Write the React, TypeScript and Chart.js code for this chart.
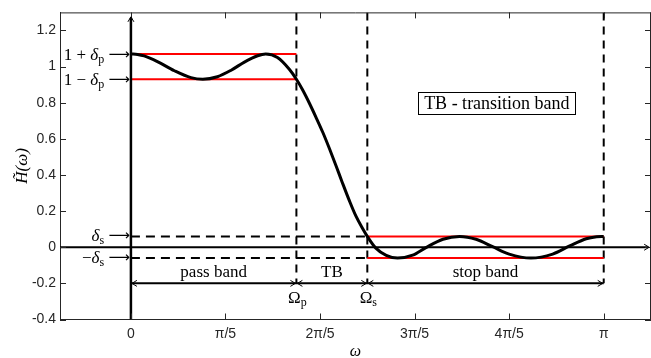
import { useEffect, useRef } from 'react';
import { Chart, registerables } from 'chart.js';

Chart.register(...registerables);

// ---- data (omega in units of pi) ----
const omega = [0, 0.014, 0.028, 0.056, 0.092, 0.127, 0.152, 0.183, 0.212, 0.24, 0.268, 0.285, 0.31, 0.335, 0.35, 0.363, 0.377, 0.391, 0.406, 0.42, 0.434, 0.448, 0.462, 0.476, 0.49, 0.5, 0.518, 0.54, 0.564, 0.596, 0.624, 0.66, 0.695, 0.73, 0.765, 0.8, 0.846, 0.892, 0.928, 0.963, 0.985, 1.0];
const response = [1.07, 1.067, 1.059, 1.028, 0.977, 0.939, 0.93, 0.944, 0.98, 1.025, 1.06, 1.07, 1.05, 0.985, 0.93, 0.872, 0.8, 0.722, 0.635, 0.545, 0.45, 0.352, 0.258, 0.172, 0.104, 0.06, -0.005, -0.045, -0.06, -0.044, -0.002, 0.044, 0.06, 0.044, 0.003, -0.038, -0.06, -0.038, 0.007, 0.047, 0.058, 0.06];

const OMEGA_P = 0.35;
const OMEGA_S = 0.5;
const OMEGA_END = 1;
const DELTA_P = 0.07;
const DELTA_S = 0.06;
const BAND_ARROW_Y = -0.2;
const AXIS_ARROW_TOP = 1.27;
const AXIS_ARROW_RIGHT = 1.094;

const X_MIN = -0.15;
const X_MAX = 1.1;
const Y_MIN = -0.4;
const Y_MAX = 1.3;

const xTickValues = [0, 0.2, 0.4, 0.6, 0.8, 1];
const xTickLabels = ['0', 'π/5', '2π/5', '3π/5', '4π/5', 'π'];
const yTickValues = [-0.4, -0.2, 0, 0.2, 0.4, 0.6, 0.8, 1, 1.2];
const yTickLabels = ['-0.4', '-0.2', '0', '0.2', '0.4', '0.6', '0.8', '1', '1.2'];

const bandLabels = ['pass band', 'TB', 'stop band'];
const noteText = 'TB - transition band';
const NOTE_X = 0.774;
const NOTE_Y = 0.8;

const AXIS_COLOR = '#262626';
const SERIF = '"Liberation Serif", "Times New Roman", serif';
const SANS = '"Liberation Sans", Arial, sans-serif';
const F_MAIN = `17px ${SERIF}`;
const F_NOTE = `18px ${SERIF}`;
const F_ITAL = `italic 17px ${SERIF}`;
const F_SUB = `12px ${SERIF}`;
const F_ARROW = `15px "DejaVu Sans", ${SERIF}`;

const seg = (x1: number, y1: number, x2: number, y2: number) => [
  { x: x1, y: y1 },
  { x: x2, y: y2 },
];

const lineDs = (data: any, color: string, width: number, dash: number[] = []) => ({
  data,
  borderColor: color,
  borderWidth: width,
  borderDash: dash,
  pointRadius: 0,
  fill: false,
  tension: 0,
});

type Part = { t: string; font: string; dy?: number };

function drawParts(ctx: CanvasRenderingContext2D, parts: Part[], x: number, y: number, align: 'left' | 'right' | 'center') {
  const widths = parts.map((p) => {
    ctx.font = p.font;
    return ctx.measureText(p.t).width;
  });
  const total = widths.reduce((a, b) => a + b, 0);
  let cx = align === 'left' ? x : align === 'right' ? x - total : x - total / 2;
  ctx.textAlign = 'left';
  ctx.textBaseline = 'alphabetic';
  parts.forEach((p, i) => {
    ctx.font = p.font;
    ctx.fillText(p.t, cx, y + (p.dy || 0));
    cx += widths[i];
  });
}

function chevron(ctx: CanvasRenderingContext2D, tx: number, ty: number, dx: number, dy: number, len = 5, hw = 3) {
  const bx = tx - dx * len;
  const by = ty - dy * len;
  const nx = -dy;
  const ny = dx;
  ctx.beginPath();
  ctx.moveTo(bx + nx * hw, by + ny * hw);
  ctx.lineTo(tx, ty);
  ctx.lineTo(bx - nx * hw, by - ny * hw);
  ctx.stroke();
}

const overlay = {
  id: 'overlay',
  afterDraw(chart: any) {
    const { ctx, chartArea: a, scales } = chart;
    const xs = scales.x;
    const ys = scales.y;
    const px = (v: number) => xs.getPixelForValue(v);
    const py = (v: number) => ys.getPixelForValue(v);
    ctx.save();

    // box frame (top and right) and inward ticks
    ctx.strokeStyle = AXIS_COLOR;
    ctx.lineWidth = 1;
    ctx.beginPath();
    ctx.moveTo(a.left, a.top + 0.5);
    ctx.lineTo(a.right, a.top + 0.5);
    ctx.moveTo(a.right - 0.5, a.top);
    ctx.lineTo(a.right - 0.5, a.bottom);
    xTickValues.forEach((v) => {
      const x = Math.round(px(v)) + 0.5;
      ctx.moveTo(x, a.bottom);
      ctx.lineTo(x, a.bottom - 6);
      ctx.moveTo(x, a.top);
      ctx.lineTo(x, a.top + 6);
    });
    yTickValues.forEach((v) => {
      const y = Math.round(py(v)) + 0.5;
      ctx.moveTo(a.left, y);
      ctx.lineTo(a.left + 6, y);
      ctx.moveTo(a.right, y);
      ctx.lineTo(a.right - 6, y);
    });
    ctx.stroke();

    // arrowheads
    ctx.strokeStyle = '#000';
    ctx.lineWidth = 1;
    chevron(ctx, px(0), py(AXIS_ARROW_TOP) - 1, 0, -1);
    chevron(ctx, px(AXIS_ARROW_RIGHT) + 1, py(0), 1, 0);
    const ya = py(BAND_ARROW_Y);
    chevron(ctx, px(0) + 1, ya, -1, 0);
    chevron(ctx, px(OMEGA_P) - 1, ya, 1, 0);
    chevron(ctx, px(OMEGA_P) + 1, ya, -1, 0);
    chevron(ctx, px(OMEGA_S) - 1, ya, 1, 0);
    chevron(ctx, px(OMEGA_S) + 1, ya, -1, 0);
    chevron(ctx, px(OMEGA_END) - 1, ya, 1, 0);

    // left-side level labels
    ctx.fillStyle = '#000';
    const lx = px(0) - 1;
    const gap: Part = { t: ' ', font: F_MAIN };
    const arrow: Part = { t: '⟶', font: F_ARROW, dy: -1 };
    drawParts(ctx, [
      { t: '1 + ', font: F_MAIN },
      { t: 'δ', font: F_ITAL },
      { t: 'p', font: F_SUB, dy: 3 },
      gap,
      arrow,
    ], lx, py(1 + DELTA_P) + 6, 'right');
    drawParts(ctx, [
      { t: '1 − ', font: F_MAIN },
      { t: 'δ', font: F_ITAL },
      { t: 'p', font: F_SUB, dy: 3 },
      gap,
      arrow,
    ], lx, py(1 - DELTA_P) + 6, 'right');
    drawParts(ctx, [
      { t: 'δ', font: F_ITAL },
      { t: 's', font: F_SUB, dy: 3 },
      gap,
      arrow,
    ], lx, py(DELTA_S) + 5, 'right');
    drawParts(ctx, [
      { t: '−', font: F_MAIN },
      { t: 'δ', font: F_ITAL },
      { t: 's', font: F_SUB, dy: 3 },
      gap,
      arrow,
    ], lx, py(-DELTA_S) + 5, 'right');

    // band labels
    const bounds = [0, OMEGA_P, OMEGA_S, OMEGA_END];
    bandLabels.forEach((lab, i) => {
      drawParts(ctx, [{ t: lab, font: F_MAIN }], (px(bounds[i]) + px(bounds[i + 1])) / 2, ya - 6, 'center');
    });
    drawParts(ctx, [{ t: 'Ω', font: F_MAIN }, { t: 'p', font: F_SUB, dy: 3 }], px(OMEGA_P) + 1, ya + 20, 'center');
    drawParts(ctx, [{ t: 'Ω', font: F_MAIN }, { t: 's', font: F_SUB, dy: 3 }], px(OMEGA_S) + 1, ya + 20, 'center');

    // note box
    ctx.font = F_NOTE;
    const tw = ctx.measureText(noteText).width;
    const cx = px(NOTE_X);
    const cy = py(NOTE_Y);
    ctx.strokeStyle = '#000';
    ctx.lineWidth = 1;
    ctx.strokeRect(Math.round(cx - tw / 2 - 6) + 0.5, Math.round(cy - 11) + 0.5, Math.round(tw + 12), 22);
    drawParts(ctx, [{ t: noteText, font: F_NOTE }], cx, cy + 6, 'center');

    ctx.restore();
  },
};

export default function App() {
  const ref = useRef<HTMLCanvasElement>(null);
  useEffect(() => {
    const curve = omega.map((w, i) => ({ x: w, y: response[i] }));
    const datasets: any[] = [
      { ...lineDs(curve, '#000', 3), cubicInterpolationMode: 'monotone' },
      lineDs(seg(0, Y_MIN, 0, AXIS_ARROW_TOP), '#000', 2.5),
      lineDs(seg(X_MIN, 0, AXIS_ARROW_RIGHT, 0), '#000', 2),
      lineDs(seg(0, BAND_ARROW_Y, OMEGA_END, BAND_ARROW_Y), '#000', 2),
      lineDs(seg(0, 1 + DELTA_P, OMEGA_P, 1 + DELTA_P), '#ff0000', 2),
      lineDs(seg(0, 1 - DELTA_P, OMEGA_P, 1 - DELTA_P), '#ff0000', 2),
      lineDs(seg(OMEGA_S, DELTA_S, OMEGA_END, DELTA_S), '#ff0000', 2),
      lineDs(seg(OMEGA_S, -DELTA_S, OMEGA_END, -DELTA_S), '#ff0000', 2),
      lineDs(seg(OMEGA_P, Y_MAX, OMEGA_P, BAND_ARROW_Y), '#000', 2, [8, 6]),
      lineDs(seg(OMEGA_S, Y_MAX, OMEGA_S, BAND_ARROW_Y), '#000', 2, [8, 6]),
      lineDs(seg(OMEGA_END, Y_MAX, OMEGA_END, BAND_ARROW_Y), '#000', 2, [8, 6]),
      lineDs(seg(0, DELTA_S, OMEGA_S, DELTA_S), '#000', 2, [9, 6]),
      lineDs(seg(0, -DELTA_S, OMEGA_S, -DELTA_S), '#000', 2, [9, 6]),
    ];
    const chart = new Chart(ref.current!, {
      type: 'line',
      data: { datasets },
      options: {
        animation: false,
        responsive: false,
        maintainAspectRatio: false,
        layout: { padding: { top: 8, right: 0, left: 0, bottom: 0 } },
        plugins: { legend: { display: false }, tooltip: { enabled: false } },
        elements: { point: { radius: 0 } },
        scales: {
          x: {
            type: 'linear',
            min: X_MIN,
            max: X_MAX,
            grid: { display: false, drawTicks: false },
            border: { display: true, color: AXIS_COLOR, width: 1 },
            afterBuildTicks: (s: any) => {
              s.ticks = xTickValues.map((value) => ({ value }));
            },
            afterFit: (s: any) => {
              s.height = 38.5;
            },
            ticks: {
              autoSkip: false,
              maxRotation: 0,
              padding: 6,
              color: AXIS_COLOR,
              font: { family: SANS, size: 14 },
              callback: (_v: any, i: number) => xTickLabels[i],
            },
            title: {
              display: true,
              text: 'ω',
              color: '#000',
              padding: { top: 0, bottom: 0 },
              font: { family: SERIF, size: 16, style: 'italic', lineHeight: 0.8 },
            },
          },
          y: {
            type: 'linear',
            min: Y_MIN,
            max: Y_MAX,
            grid: { display: false, drawTicks: false },
            border: { display: true, color: AXIS_COLOR, width: 1 },
            afterBuildTicks: (s: any) => {
              s.ticks = yTickValues.map((value) => ({ value }));
            },
            afterFit: (s: any) => {
              s.width = 60;
            },
            ticks: {
              autoSkip: false,
              padding: 4,
              color: AXIS_COLOR,
              font: { family: SANS, size: 14 },
              callback: (_v: any, i: number) => yTickLabels[i],
            },
            title: {
              display: true,
              text: 'H̃(ω)',
              color: '#000',
              padding: { top: 14, bottom: 0 },
              font: { family: SERIF, size: 17, style: 'italic', lineHeight: 1 },
            },
          },
        },
      },
      plugins: [overlay],
    } as any);
    return () => chart.destroy();
  }, []);
  return (
    <div style={{ position: 'fixed', left: 0, top: 0, width: 651, height: 358, background: '#fff' }}>
      <canvas ref={ref} width={651} height={358} style={{ display: 'block', width: 651, height: 358 }} />
    </div>
  );
}
